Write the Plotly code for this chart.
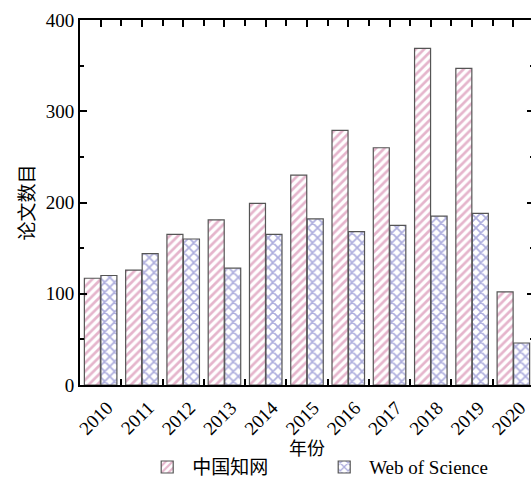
import plotly.graph_objects as go

years = ["2010", "2011", "2012", "2013", "2014", "2015", "2016", "2017", "2018", "2019", "2020"]
cnki = [117, 126, 165, 181, 199, 230, 279, 260, 369, 347, 102]
wos = [120, 144, 160, 128, 165, 182, 168, 175, 185, 188, 46]
series_names = ["中国知网", "Web of Science"]

xpos = list(range(len(years)))
serif = "Liberation Serif, Times New Roman, Noto Sans CJK SC"
label_shift = 0.16

fig = go.Figure()
fig.add_trace(go.Bar(
    x=xpos, y=cnki, name=series_names[0],
    marker=dict(color="white", line=dict(color="#555555", width=1.2),
                pattern=dict(shape="/", fgcolor="#cc6b9a", bgcolor="white", size=6, solidity=0.45)),
))
fig.add_trace(go.Bar(
    x=xpos, y=wos, name=series_names[1],
    marker=dict(color="white", line=dict(color="#555555", width=1.2),
                pattern=dict(shape="x", fgcolor="#5c5cbc", bgcolor="white", size=7, solidity=0.42)),
))

fig.update_layout(
    width=534, height=479,
    margin=dict(l=80, r=0, t=20, b=94, autoexpand=False),
    plot_bgcolor="white", paper_bgcolor="white",
    barmode="group", bargap=0.2, bargroupgap=0.03,
    font=dict(family=serif, color="black", size=18),
    showlegend=True,
    legend=dict(orientation="h", x=0.137, xanchor="left", y=-0.225, yanchor="middle",
                font=dict(size=19, family=serif), entrywidth=122, entrywidthmode="pixels",
                itemwidth=40, bgcolor="rgba(0,0,0,0)"),
    xaxis=dict(
        range=[-0.5, 10.5], tickmode="array", tickvals=xpos, ticktext=years,
        showticklabels=False,
        ticks="inside", ticklen=7, tickwidth=2, tickcolor="black",
        showline=True, linecolor="black", linewidth=2, mirror="ticks",
        showgrid=False, zeroline=False, layer="below traces", automargin=False,
        minor=dict(ticks="inside", ticklen=6, tickwidth=2, tickcolor="black",
                   tick0=0.5, dtick=1, showgrid=False),
    ),
    xaxis2=dict(
        overlaying="x", anchor="y", side="bottom",
        range=[-0.5 - label_shift, 10.5 - label_shift],
        tickmode="array", tickvals=xpos, ticktext=years, tickangle=-45,
        ticks="", showline=False, showgrid=False, zeroline=False, automargin=False,
        ticklabelstandoff=7, tickfont=dict(size=19, family=serif),
    ),
    yaxis=dict(
        range=[0, 400], tickmode="linear", tick0=0, dtick=100,
        ticks="inside", ticklen=7, tickwidth=2, tickcolor="black",
        showline=True, linecolor="black", linewidth=2, mirror="ticks",
        showgrid=False, zeroline=False, automargin=False,
        minor=dict(ticks="inside", ticklen=4, tickwidth=2, tickcolor="black",
                   dtick=50, showgrid=False),
        tickfont=dict(size=19, family=serif),
        title=dict(text="论文数目", font=dict(size=19, family="Noto Sans CJK SC"), standoff=6),
    ),
    annotations=[dict(text="年份", xref="paper", yref="paper", x=0.5, y=-0.169,
                      xanchor="center", yanchor="middle", showarrow=False,
                      font=dict(size=18, family="Noto Sans CJK SC"))],
)
# invisible helper so xaxis2 is rendered
fig.add_trace(go.Scatter(x=[], y=[], xaxis="x2", yaxis="y", showlegend=False, hoverinfo="skip"))

fig.write_html("out.html", config={"displayModeBar": False},
               post_script="document.body.style.margin='0';document.body.style.overflow='hidden';")
